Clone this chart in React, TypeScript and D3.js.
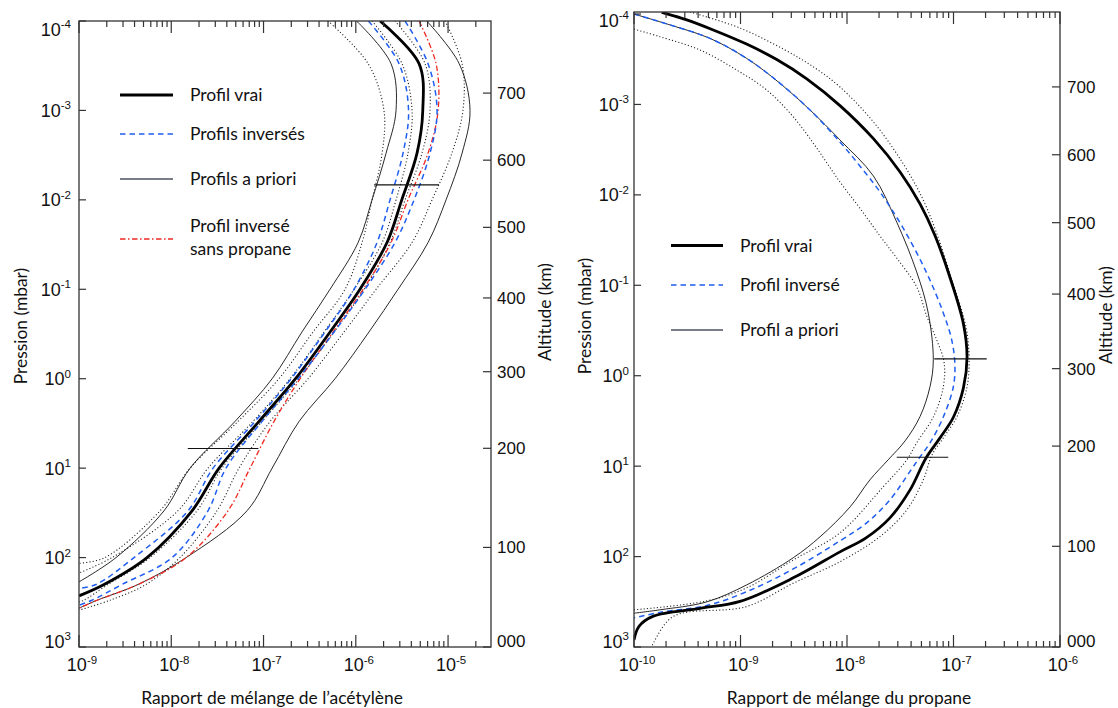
import React from "react";
import * as d3 from "d3";

type Pt = [number, number];

// ---------- shared axis data ----------
const pressureTicks = [1e-4, 1e-3, 1e-2, 1e-1, 1, 10, 100, 1000];
const altitudeLabels = ["000", "100", "200", "300", "400", "500", "600", "700"];
const altitudePressures = [1000, 77, 6.0, 0.835, 0.125, 0.0203, 0.0036, 0.00064];

// ---------- acetylene panel data: [mixing ratio, pressure (mbar)] ----------
const aceXDomain: [number, number] = [1e-9, 2.92e-5];
const acePDomain: [number, number] = [1e-4, 1000];
const aceXTicks = [1e-9, 1e-8, 1e-7, 1e-6, 1e-5];

const aceTrue: Pt[] = [[1.83e-6, 1e-4], [4.85e-6, 3e-4], [5.32e-6, 1e-3], [4.61e-6, 3e-3], [3.15e-6, 0.01], [2.18e-6, 0.03], [1.11e-6, 0.1], [5.26e-7, 0.3], [2.22e-7, 1], [8.94e-8, 3], [3.3e-8, 10], [1.68e-8, 30], [5.46e-9, 100], [1.87e-9, 200], [1e-9, 268]];
const aceAprioriLow: Pt[] = [[1.02e-6, 1e-4], [2.41e-6, 3e-4], [2.73e-6, 1e-3], [2.13e-6, 3e-3], [1.5e-6, 0.01], [1.06e-6, 0.03], [5.26e-7, 0.1], [2.61e-7, 0.3], [1.24e-7, 1], [4.91e-8, 3], [1.6e-8, 10], [8.34e-9, 30], [2.52e-9, 100], [1e-9, 187]];
const aceAprioriHigh: Pt[] = [[5.88e-6, 1e-4], [1.32e-5, 3e-4], [1.73e-5, 1e-3], [1.42e-5, 3e-3], [9.51e-6, 0.01], [6.07e-6, 0.03], [2.87e-6, 0.1], [1.39e-6, 0.3], [5.96e-7, 1], [2.43e-7, 3], [1.24e-7, 10], [6.62e-8, 30], [1.45e-8, 100], [4.36e-9, 200], [1.57e-9, 300], [1e-9, 368]];
const aceInvLow: Pt[] = [[1.37e-6, 1e-4], [2.94e-6, 3e-4], [3.73e-6, 1e-3], [3.25e-6, 3e-3], [2.35e-6, 0.01], [1.7e-6, 0.03], [9.57e-7, 0.1], [4.64e-7, 0.3], [1.99e-7, 1], [8.09e-8, 3], [2.84e-8, 10], [1.52e-8, 30], [3.95e-9, 100], [1.53e-9, 200], [1e-9, 222]];
const aceInvHigh: Pt[] = [[3.42e-6, 1e-4], [6.07e-6, 3e-4], [7.6e-6, 1e-3], [6.38e-6, 3e-3], [4.28e-6, 0.01], [2.66e-6, 0.03], [1.26e-6, 0.1], [5.81e-7, 0.3], [2.37e-7, 1], [9.63e-8, 3], [3.92e-8, 10], [2.5e-8, 30], [1.02e-8, 100], [2.92e-9, 200], [1.38e-9, 300], [1e-9, 341]];
const aceNoPropane: Pt[] = [[4.85e-6, 1e-4], [7.41e-6, 3e-4], [7.8e-6, 1e-3], [6.07e-6, 3e-3], [3.68e-6, 0.01], [2.41e-6, 0.03], [1.2e-6, 0.1], [5.67e-7, 0.3], [2.49e-7, 1], [1.3e-7, 3], [7.14e-8, 10], [4.12e-8, 30], [1.45e-8, 100], [4.36e-9, 200], [1.57e-9, 300], [1e-9, 368]];
const aceErrOuterLow: Pt[] = [[5.0e-7, 1e-4], [1.36e-6, 3e-4], [2.02e-6, 1e-3], [1.93e-6, 3e-3], [1.5e-6, 0.01], [1.17e-6, 0.03], [7.64e-7, 0.1], [3.44e-7, 0.3], [1.47e-7, 1], [5.29e-8, 3], [1.6e-8, 10], [7.55e-9, 30], [1.91e-9, 100], [1e-9, 116]];
const aceErrInnerLow: Pt[] = [[2.66e-6, 1e-4], [5.63e-6, 3e-4], [6.38e-6, 1e-3], [5.22e-6, 3e-3], [3.42e-6, 0.01], [2.35e-6, 0.03], [1.23e-6, 0.1], [5.81e-7, 0.3], [2.43e-7, 1], [9.63e-8, 3], [3.55e-8, 10], [1.9e-8, 30], [5.89e-9, 100], [2.06e-9, 200], [1.13e-9, 300], [1e-9, 313]];
const aceErrInnerHigh: Pt[] = [[1.5e-6, 1e-4], [3.17e-6, 3e-4], [4.07e-6, 1e-3], [3.68e-6, 3e-3], [2.73e-6, 0.01], [1.93e-6, 0.03], [9.57e-7, 0.1], [4.53e-7, 0.3], [1.94e-7, 1], [7.69e-8, 3], [2.5e-8, 10], [1.18e-8, 30], [2.28e-9, 100], [1e-9, 149]];
const aceErrOuterHigh: Pt[] = [[9.27e-6, 1e-4], [1.42e-5, 3e-4], [1.45e-5, 1e-3], [1.1e-5, 3e-3], [6.71e-6, 0.01], [4.07e-6, 0.03], [1.66e-6, 0.1], [7.46e-7, 0.3], [3.04e-7, 1], [1.18e-7, 3], [5.42e-8, 10], [3.13e-8, 30], [1.24e-8, 100], [5.32e-9, 200], [2.17e-9, 300], [1e-9, 387]];

const aceBarP = [6.8e-3, 6.03];
const aceBarLo = [1.58e-6, 1.51e-8];
const aceBarHi = [7.98e-6, 8.8e-8];
const aceLegend = ["Profil vrai", "Profils inversés", "Profils a priori", "Profil inversé", "sans propane"];

// ---------- propane panel data ----------
const proXDomain: [number, number] = [1e-10, 1e-6];
const proPDomain: [number, number] = [9.5e-5, 1000];
const proXTicks = [1e-10, 1e-9, 1e-8, 1e-7, 1e-6];

const proTrue: Pt[] = [[1.82e-10, 9.58e-5], [3.13e-10, 1.16e-4], [5.55e-10, 1.5e-4], [1.14e-9, 2.15e-4], [2.19e-9, 3.19e-4], [4.19e-9, 5.21e-4], [8.59e-9, 1.03e-3], [1.77e-8, 2.39e-3], [3.15e-8, 5.58e-3], [4.85e-8, 0.0126], [6.7e-8, 0.0281], [9.27e-8, 0.0819], [1.24e-7, 0.267], [1.34e-7, 0.62], [1.24e-7, 1.36], [1.0e-7, 2.86], [7.47e-8, 4.87], [5.52e-8, 8.11], [3.91e-8, 18.3], [2.53e-8, 37.3], [1.51e-8, 62.1], [8.59e-9, 88.7], [3.13e-9, 172], [9.9e-10, 313], [4.17e-10, 374], [1.52e-10, 456], [1.11e-10, 594], [1e-10, 834]];
const proApriori: Pt[] = [[1e-10, 1e-4], [2.18e-10, 1.32e-4], [5.17e-10, 1.86e-4], [1.14e-9, 3.09e-4], [2.35e-9, 5.84e-4], [4.49e-9, 1.15e-3], [8.59e-9, 2.47e-3], [1.77e-8, 6.18e-3], [2.93e-8, 0.02], [4.51e-8, 0.0711], [5.8e-8, 0.204], [6.46e-8, 0.669], [6.02e-8, 1.32], [4.85e-8, 2.83], [3.51e-8, 5.26], [2.43e-8, 8.53], [1.64e-8, 14.2], [1.07e-8, 28.2], [5.58e-9, 60.5], [3.13e-9, 103], [1.14e-9, 206], [4.82e-10, 317], [1.75e-10, 388], [1e-10, 423]];
const proInverted: Pt[] = [[1e-10, 1e-4], [2.18e-10, 1.32e-4], [5.17e-10, 1.86e-4], [1.14e-9, 3.09e-4], [2.35e-9, 5.84e-4], [4.49e-9, 1.15e-3], [8.59e-9, 2.6e-3], [1.32e-8, 4.79e-3], [2.04e-8, 9.29e-3], [3.36e-8, 0.0232], [5.6e-8, 0.073], [8.02e-8, 0.202], [9.62e-8, 0.402], [1.03e-7, 0.741], [9.96e-8, 1.33], [8.02e-8, 2.86], [6.02e-8, 5.53], [4.85e-8, 7.91], [3.99e-8, 11.0], [2.53e-8, 23.6], [1.53e-8, 42.4], [8.59e-9, 67.0], [3.13e-9, 137], [1.14e-9, 245], [4.82e-10, 347], [1.75e-10, 414], [1e-10, 476]];
const proErrLow: Pt[] = [[1e-10, 1.47e-4], [1.75e-10, 1.78e-4], [4.17e-10, 2.5e-4], [9.21e-10, 4.16e-4], [1.76e-9, 6.92e-4], [3.13e-9, 1.37e-3], [5.19e-9, 3.03e-3], [8.59e-9, 7.2e-3], [1.32e-8, 0.014], [2.04e-8, 0.0285], [2.93e-8, 0.0499], [4.51e-8, 0.104], [5.6e-8, 0.218], [6.95e-8, 0.402], [8.15e-8, 0.703], [8.02e-8, 1.33], [6.46e-8, 2.86], [4.51e-8, 5.53], [3.64e-8, 8.53], [2.19e-8, 16.9], [8.59e-9, 54.7], [3.13e-9, 109], [1.14e-9, 222], [4.82e-10, 309], [1e-10, 388]];
const proErrHigh: Pt[] = [[3.36e-10, 9.5e-5], [9.9e-10, 1.43e-4], [2.62e-9, 2.5e-4], [5.01e-9, 3.95e-4], [8.59e-9, 6.41e-4], [1.77e-8, 1.56e-3], [3.38e-8, 4.55e-3], [5.2e-8, 0.0114], [6.95e-8, 0.0266], [9.68e-8, 0.0873], [1.31e-7, 0.289], [1.4e-7, 0.62], [1.34e-7, 1.33], [1.08e-7, 2.83], [8.15e-8, 4.75], [6.28e-8, 7.51], [5.2e-8, 14.2], [3.64e-8, 30.5], [2.04e-8, 60.1], [8.59e-9, 114], [3.13e-9, 197], [1.14e-9, 357], [2.34e-10, 460], [1.52e-10, 906], [1.41e-10, 1100]];

const proBarP = [0.652, 7.96];
const proBarLo = [6.6e-8, 2.93e-8];
const proBarHi = [2.05e-7, 8.93e-8];
const proLegend = ["Profil vrai", "Profil inversé", "Profil a priori"];

// ---------- styles ----------
type Style = { stroke: string; width: number; dash?: string };
const stTrue: Style = { stroke: "#000", width: 2.8 };
const stInv: Style = { stroke: "#1f5ef0", width: 1.5, dash: "5.5 4" };
const stApriori: Style = { stroke: "#111", width: 0.9 };
const stErr: Style = { stroke: "#222", width: 1.1, dash: "1.1 2.2" };
const stRed: Style = { stroke: "#ee2a22", width: 1.3, dash: "5.5 2.5 1.5 2.5" };
const stLegApriori: Style = { stroke: "#4d5260", width: 1.3 };

const numFont = "'Liberation Sans', Arial, sans-serif";
const txtFont = "Lato, 'Open Sans', sans-serif";

type Box = { l: number; t: number; r: number; b: number };

function Pow({ x, y, exp, anchor, size = 18 }: { x: number; y: number; exp: number; anchor: "start" | "middle" | "end"; size?: number }) {
  return (
    <text x={x} y={y} textAnchor={anchor} fontFamily={numFont} fontSize={size} fill="#111">
      <tspan>10</tspan>
      <tspan dy={-7.5} fontSize={11.5}>{String(exp)}</tspan>
    </text>
  );
}

function Panel(props: {
  id: string;
  box: Box;
  xDomain: [number, number];
  pDomain: [number, number];
  xTicks: number[];
  curves: { data: Pt[]; style: Style }[];
  barP: number[];
  barLo: number[];
  barHi: number[];
  yLabelEnd: number;
  altLabelX: number;
}) {
  const { id, box, xDomain, pDomain, xTicks, curves, barP, barLo, barHi, yLabelEnd, altLabelX } = props;
  const xs = d3.scaleLog().domain(xDomain).range([box.l, box.r]);
  const ys = d3.scaleLog().domain(pDomain).range([box.t, box.b]);
  const line = d3
    .line<Pt>()
    .x((d) => xs(d[0]))
    .y((d) => ys(d[1]))
    .curve(d3.curveCatmullRom.alpha(0.5));
  const all = xs.ticks();
  const isMajor = (v: number) => Math.abs(Math.log10(v) - Math.round(Math.log10(v))) < 1e-6;
  const clamp = (v: number) => Math.max(box.t + 8, Math.min(box.b - 6, v));
  return (
    <g>
      <defs>
        <clipPath id={id}>
          <rect x={box.l} y={box.t} width={box.r - box.l} height={box.b - box.t} />
        </clipPath>
      </defs>
      <g clipPath={`url(#${id})`}>
        {curves.map((c, i) => (
          <path
            key={i}
            d={line(c.data) || ""}
            fill="none"
            stroke={c.style.stroke}
            strokeWidth={c.style.width}
            strokeDasharray={c.style.dash}
            strokeLinejoin="round"
          />
        ))}
      </g>
      {barP.map((p, i) => (
        <line key={"bar" + i} x1={xs(barLo[i])} x2={xs(barHi[i])} y1={ys(p)} y2={ys(p)} stroke="#111" strokeWidth={1.1} />
      ))}
      <rect x={box.l} y={box.t} width={box.r - box.l} height={box.b - box.t} fill="none" stroke="#333" strokeWidth={1.3} />
      {all.map((v, i) => {
        const X = xs(v);
        const len = isMajor(v) ? 12 : 6;
        return (
          <g key={"xt" + i} stroke="#333" strokeWidth={1.2}>
            <line x1={X} x2={X} y1={box.b} y2={box.b - len} />
            <line x1={X} x2={X} y1={box.t} y2={box.t + len} />
          </g>
        );
      })}
      {xTicks.map((v, i) => (
        <Pow key={"xl" + i} x={xs(v) + 3} y={671} exp={Math.round(Math.log10(v))} anchor="middle" />
      ))}
      {pressureTicks.map((p, i) => {
        const Y = ys(p);
        return (
          <g key={"yt" + i}>
            <line x1={box.l} x2={box.l + 7} y1={Y} y2={Y} stroke="#333" strokeWidth={1.2} />
            <Pow x={yLabelEnd} y={clamp(Y) + 6.5} exp={Math.round(Math.log10(p))} anchor="end" />
          </g>
        );
      })}
      {altitudePressures.map((p, i) => {
        const Y = ys(p);
        return (
          <g key={"at" + i}>
            <line x1={box.r} x2={box.r - 8} y1={Y} y2={Y} stroke="#333" strokeWidth={1.2} />
            <text x={altLabelX} y={Math.min(Y, box.b - 6) + 6} fontFamily={numFont} fontSize={17} fill="#111">
              {altitudeLabels[i]}
            </text>
          </g>
        );
      })}
    </g>
  );
}

function LegendLine({ x1, x2, y, style }: { x1: number; x2: number; y: number; style: Style }) {
  return <line x1={x1} x2={x2} y1={y} y2={y} stroke={style.stroke} strokeWidth={style.width} strokeDasharray={style.dash} />;
}

export default function App() {
  const leftBox: Box = { l: 79, t: 21, r: 491, b: 647 };
  const rightBox: Box = { l: 634, t: 12, r: 1060, b: 647 };
  const legTxt = { fontFamily: txtFont, fontSize: 17.5, fill: "#111" } as const;
  const titleTxt = { fontFamily: txtFont, fontSize: 17.4, fill: "#111" } as const;
  return (
    <svg width={1118} height={708} style={{ position: "absolute", left: 0, top: 0, background: "#fff" }}>
      <rect width={1118} height={708} fill="#fff" />
      <Panel
        id="clipL"
        box={leftBox}
        xDomain={aceXDomain}
        pDomain={acePDomain}
        xTicks={aceXTicks}
        curves={[
          { data: aceErrOuterLow, style: stErr },
          { data: aceErrInnerLow, style: stErr },
          { data: aceErrInnerHigh, style: stErr },
          { data: aceErrOuterHigh, style: stErr },
          { data: aceAprioriLow, style: stApriori },
          { data: aceAprioriHigh, style: stApriori },
          { data: aceNoPropane, style: stRed },
          { data: aceInvLow, style: stInv },
          { data: aceInvHigh, style: stInv },
          { data: aceTrue, style: stTrue },
        ]}
        barP={aceBarP}
        barLo={aceBarLo}
        barHi={aceBarHi}
        yLabelEnd={71}
        altLabelX={497}
      />
      <Panel
        id="clipR"
        box={rightBox}
        xDomain={proXDomain}
        pDomain={proPDomain}
        xTicks={proXTicks}
        curves={[
          { data: proErrLow, style: stErr },
          { data: proErrHigh, style: stErr },
          { data: proApriori, style: stApriori },
          { data: proInverted, style: stInv },
          { data: proTrue, style: stTrue },
        ]}
        barP={proBarP}
        barLo={proBarLo}
        barHi={proBarHi}
        yLabelEnd={629}
        altLabelX={1067}
      />

      {/* left legend */}
      <LegendLine x1={120} x2={173} y={95} style={stTrue} />
      <LegendLine x1={120} x2={173} y={134} style={stInv} />
      <LegendLine x1={120} x2={173} y={179} style={stLegApriori} />
      <LegendLine x1={120} x2={173} y={239} style={stRed} />
      <text x={190} y={101} {...legTxt}>{aceLegend[0]}</text>
      <text x={190} y={140} {...legTxt}>{aceLegend[1]}</text>
      <text x={190} y={185} {...legTxt}>{aceLegend[2]}</text>
      <text x={190} y={232} {...legTxt}>{aceLegend[3]}</text>
      <text x={190} y={255} {...legTxt}>{aceLegend[4]}</text>

      {/* right legend */}
      <LegendLine x1={671} x2={723} y={245.5} style={stTrue} />
      <LegendLine x1={671} x2={723} y={285} style={stInv} />
      <LegendLine x1={671} x2={723} y={330} style={stLegApriori} />
      <text x={740} y={251.5} {...legTxt}>{proLegend[0]}</text>
      <text x={740} y={291} {...legTxt}>{proLegend[1]}</text>
      <text x={740} y={336} {...legTxt}>{proLegend[2]}</text>

      {/* titles */}
      <text x={272} y={704} textAnchor="middle" {...titleTxt}>Rapport de mélange de l’acétylène</text>
      <text x={849} y={704} textAnchor="middle" {...titleTxt}>Rapport de mélange du propane</text>
      <text transform="translate(27,326) rotate(-90)" textAnchor="middle" {...titleTxt}>Pression (mbar)</text>
      <text transform="translate(591,316) rotate(-90)" textAnchor="middle" {...titleTxt}>Pression (mbar)</text>
      <text transform="translate(551,312) rotate(-90)" textAnchor="middle" {...titleTxt}>Altitude (km)</text>
      <text transform="translate(1112,315) rotate(-90)" textAnchor="middle" {...titleTxt}>Altitude (km)</text>
    </svg>
  );
}
